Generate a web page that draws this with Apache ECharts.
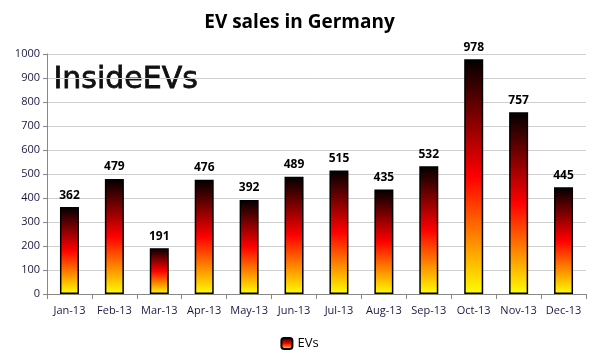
<!DOCTYPE html>
<html><head><meta charset="utf-8">
<script src="https://cdn.jsdelivr.net/npm/echarts@6/dist/echarts.min.js"></script>
<style>html,body{margin:0;padding:0;background:#fff}#c{width:599px;height:361px}</style>
</head><body><div id="c"></div>
<script>
const categories = ['Jan-13','Feb-13','Mar-13','Apr-13','May-13','Jun-13','Jul-13','Aug-13','Sep-13','Oct-13','Nov-13','Dec-13'];
const evSales = [362,479,191,476,392,489,515,435,532,978,757,445];
const yTicks = {min:0,max:1000,interval:100};

const grad = new echarts.graphic.LinearGradient(0,0,0,1,[
  {offset:0,color:'#000000'},
  {offset:0.5,color:'#ff0000'},
  {offset:1,color:'#ffff00'}
]);
const chart = echarts.init(document.getElementById('c'));
chart.setOption({
  animation:false,
  title:{text:'EV sales in Germany',left:'center',top:8,textStyle:{fontFamily:'Open Sans',fontWeight:'bold',fontSize:19,color:'#000'}},
  graphic:[{type:'text',left:53,top:65,style:{text:'InsideEVs',font:'30px "DejaVu Sans"',fill:'#111',stroke:'#111',lineWidth:0.8}}],
  legend:{bottom:6,left:'center',itemWidth:11,itemHeight:11,itemGap:4,textStyle:{fontFamily:'Open Sans',fontSize:13,color:'#000'},data:['EVs']},
  grid:{left:47,right:13,top:54,bottom:67},
  xAxis:{type:'category',data:categories,
    axisLine:{lineStyle:{color:'#888',width:1}},
    axisTick:{show:true,length:5,lineStyle:{color:'#888'}},
    axisLabel:{fontFamily:'Open Sans',fontSize:11,color:'#1a1a40',margin:11,interval:0}},
  yAxis:{type:'value',min:yTicks.min,max:yTicks.max,interval:yTicks.interval,
    axisLine:{show:true,lineStyle:{color:'#888'}},
    axisTick:{show:true,length:4,lineStyle:{color:'#888'}},
    splitLine:{lineStyle:{color:'#d0d0d0'}},
    axisLabel:{fontFamily:'Open Sans',fontSize:11,color:'#1a1a40',margin:7,formatter:v=>String(v)}},
  series:[{name:'EVs',type:'bar',data:evSales,barWidth:19,
    itemStyle:{color:grad,borderColor:'#000',borderWidth:1.5,borderRadius:0},
    label:{show:true,position:'top',distance:6,fontFamily:'Open Sans',fontWeight:'bold',fontSize:12,color:'#000'}}]
});
</script></body></html>
